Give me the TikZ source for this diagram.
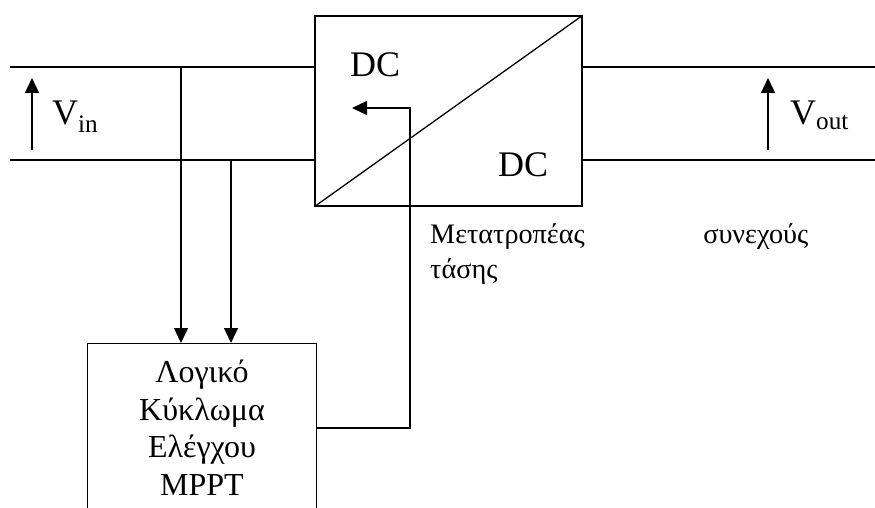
\documentclass[tikz,border=0pt]{standalone}
\usepackage{fontspec}
\setmainfont{Liberation Serif}
\usepackage{tikz}
\usetikzlibrary{arrows.meta, positioning, calc}
\tikzset{
  % Box styles
  convbox/.style={rectangle, draw=black, line width=1.3pt, minimum width=267pt, minimum height=190pt, inner sep=0pt},
  ctrlbox/.style={rectangle, draw=black, line width=1.3pt, minimum width=229pt, minimum height=200pt, inner sep=0pt},
  % Text styles
  bigtext/.style={inner sep=0pt, font=\fontsize{36}{40}\selectfont},
  ctrltext/.style={inner sep=0pt, align=center, font=\fontsize{32}{37.5}\selectfont},
  captext/.style={inner sep=0pt, text width=378pt, align=left, font=\fontsize{28.2}{35}\selectfont},
  % Line styles
  wire/.style={line width=1.3pt, black},
  arrow/.style={-{Triangle[length=15pt,width=14pt]}, line width=1.3pt, black}
}
\begin{document}
\begin{tikzpicture}[x=1pt, y=-1pt]
  \useasboundingbox (0,0) rectangle (875,507);
  \clip (0,0) rectangle (875,507);

  % Converter and control boxes
  \node[convbox] (conv) at (448.5,111) {};
  \node[ctrlbox, anchor=north west] (mppt) at (87,343) {};
  \draw[wire] (conv.south west) -- (conv.north east);

  % Box texts
  \node[bigtext, anchor=base west] (dcin) at (350,76) {DC};
  \node[bigtext, anchor=base west] (dcout) at (498,176) {DC};
  \node[ctrltext, anchor=base] (logic) at (202,495) {Λογικό\\Κύκλωμα\\Ελέγχου\\MPPT};
  \node[captext, anchor=base west] (caption) at (430,243) {Μετατροπέας\hfill συνεχούς\\τάσης};

  % Wires
  \coordinate (inT) at (10,67);
  \coordinate (inB) at (10,160);
  \coordinate (outT) at (875,67);
  \coordinate (outB) at (875,160);
  \draw[wire] (inT) -- (conv.west |- inT);
  \draw[wire] (inB) -- (conv.west |- inB);
  \draw[wire] (conv.east |- outT) -- (outT);
  \draw[wire] (conv.east |- outB) -- (outB);

  % Voltages
  \coordinate (vinlo) at (32,150);
  \coordinate (vinhi) at (32,78);
  \coordinate (voutlo) at (768,150);
  \coordinate (vouthi) at (768,78);
  \draw[arrow] (vinlo) -- (vinhi);
  \draw[arrow] (voutlo) -- (vouthi);
  \node[bigtext, anchor=base west] (vin) at (52,124) {V\textsubscript{in}};
  \node[bigtext, anchor=base west] (vout) at (790,124) {V\textsubscript{out}};

  % Sensing arrows
  \coordinate (tap1) at (181,67);
  \coordinate (tap2) at (231,160);
  \draw[arrow] (tap1) -- (tap1 |- mppt.north);
  \draw[arrow] (tap2) -- (tap2 |- mppt.north);

  % Feedback to converter
  \coordinate (fb) at (410,428);
  \coordinate (fbtip) at (352,108);
  \draw[arrow] (mppt.east |- fb) -- (fb) |- (fbtip);
\end{tikzpicture}
\end{document}
